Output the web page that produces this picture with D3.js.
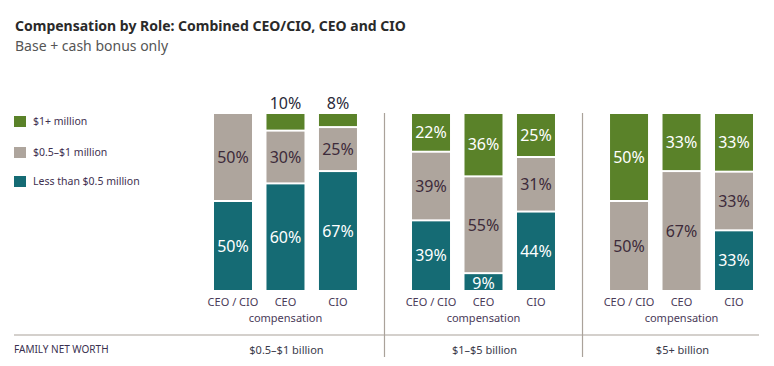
<!DOCTYPE html>
<html>
<head>
<meta charset="utf-8">
<script src="https://cdn.jsdelivr.net/npm/d3@7"></script>
<style>
  html, body { margin: 0; padding: 0; background: #fff; }
  svg { display: block; font-family: "Noto Sans", "Open Sans", sans-serif; }
</style>
</head>
<body>
<svg id="chart" width="774" height="366"></svg>
<script>
// ---- data ----
const groups = ["$0.5–$1 billion", "$1–$5 billion", "$5+ billion"];
const roles = ["CEO / CIO", "CEO", "CIO"];
const seriesKeys = ["low", "mid", "high"];
const seriesLabels = ["Less than $0.5 million", "$0.5–$1 million", "$1+ million"];
// values per group, in role order
const lowValues  = [[50, 60, 67], [39, 9, 44], [0, 0, 33]];
const midValues  = [[50, 30, 25], [39, 55, 31], [50, 67, 33]];
const highValues = [[0, 10, 8],   [22, 36, 25], [50, 33, 33]];

const colors = { low: "#156b74", mid: "#aea59d", high: "#5a8229" };
const textColors = { low: "#ffffff", mid: "#3d2b3a", high: "#ffffff" };

const svg = d3.select("#chart");

// ---- title ----
svg.append("text").attr("x", 15).attr("y", 31)
  .attr("font-size", 14).attr("font-weight", "bold").attr("fill", "#2a2a2a")
  .text("Compensation by Role: Combined CEO/CIO, CEO and CIO");
svg.append("text").attr("x", 15).attr("y", 51)
  .attr("font-size", 14).attr("fill", "#555")
  .text("Base + cash bonus only");

// ---- scales ----
const xGroup = d3.scaleBand().domain(groups).range([214, 753]).paddingInner(0.278).paddingOuter(0);
const xRole = d3.scaleBand().domain(roles).range([0, xGroup.bandwidth()]).paddingInner(0.276).paddingOuter(0);
const y = d3.scaleLinear().domain([0, 1]).range([290, 114]);

// ---- rows ----
const rows = [];
groups.forEach((g, gi) => roles.forEach((r, ri) => {
  rows.push({ group: g, role: r, low: lowValues[gi][ri], mid: midValues[gi][ri], high: highValues[gi][ri] });
}));
const stacked = d3.stack().keys(seriesKeys).offset(d3.stackOffsetExpand)(rows);

const gap = 2;
const defs = svg.append("defs");
rows.forEach((d, i) => {
  defs.append("clipPath").attr("id", "clip" + i)
    .append("rect")
    .attr("x", xGroup(d.group) + xRole(d.role)).attr("y", y(1))
    .attr("width", xRole.bandwidth()).attr("height", y(0) - y(1));
});

stacked.forEach(layer => {
  const key = layer.key;
  const g = svg.append("g");
  layer.forEach((seg, i) => {
    const d = seg.data;
    const v = d[key];
    if (!v) return;
    const x0 = xGroup(d.group) + xRole(d.role);
    const top = y(seg[1]);
    const bottom = y(seg[0]) - (seg[0] > 0 ? gap : 0);
    g.append("rect").attr("x", x0).attr("y", top)
      .attr("width", xRole.bandwidth()).attr("height", Math.max(0, bottom - top))
      .attr("fill", colors[key]);
    const h = bottom - top;
    if (h >= 24) {
      g.append("text").attr("x", x0 + xRole.bandwidth() / 2).attr("y", (top + bottom) / 2)
        .attr("dy", "0.36em").attr("text-anchor", "middle")
        .attr("font-size", 16).attr("fill", textColors[key])
        .text(v + "%");
    } else if (key === "high") {
      g.append("text").attr("x", x0 + xRole.bandwidth() / 2).attr("y", top - 11)
        .attr("dy", "0.36em").attr("text-anchor", "middle")
        .attr("font-size", 16).attr("fill", "#2a2a3a")
        .text(v + "%");
    } else {
      g.append("text").attr("x", x0 + xRole.bandwidth() / 2).attr("y", top + 9)
        .attr("dy", "0.36em").attr("text-anchor", "middle")
        .attr("font-size", 16).attr("fill", textColors[key])
        .attr("clip-path", "url(#clip" + i + ")")
        .text(v + "%");
    }
  });
});

// ---- role axis labels ----
groups.forEach(g => {
  roles.forEach(r => {
    svg.append("text").attr("x", xGroup(g) + xRole(r) + xRole.bandwidth() / 2).attr("y", 302)
      .attr("dy", "0.36em").attr("text-anchor", "middle")
      .attr("font-size", 11).attr("fill", "#4a3a58").text(r);
  });
  svg.append("text").attr("x", xGroup(g) + xGroup.bandwidth() / 2).attr("y", 318)
    .attr("dy", "0.36em").attr("text-anchor", "middle")
    .attr("font-size", 11).attr("fill", "#4a3a58").text("compensation");
  svg.append("text").attr("x", xGroup(g) + xGroup.bandwidth() / 2 + 1).attr("y", 350)
    .attr("dy", "0.36em").attr("text-anchor", "middle")
    .attr("font-size", 11).attr("fill", "#3a3a4a").text(g);
});

// ---- dividers ----
for (let i = 1; i < groups.length; i++) {
  const xd = (xGroup(groups[i - 1]) + xGroup.bandwidth() + xGroup(groups[i])) / 2;
  svg.append("line").attr("x1", xd).attr("x2", xd).attr("y1", 113).attr("y2", 357)
    .attr("stroke", "#aaa29a").attr("stroke-width", 1.2);
}
svg.append("line").attr("x1", 14).attr("x2", 759).attr("y1", 335).attr("y2", 335)
  .attr("stroke", "#aaa29a").attr("stroke-width", 1.2);

svg.append("text").attr("x", 14).attr("y", 349).attr("dy", "0.36em")
  .attr("font-size", 10).attr("fill", "#3a3050").text("FAMILY NET WORTH");

// ---- legend ----
const legendOrder = ["high", "mid", "low"];
const legendY = [116, 147, 176];
legendOrder.forEach((k, i) => {
  svg.append("rect").attr("x", 14).attr("y", legendY[i]).attr("width", 12).attr("height", 11)
    .attr("fill", colors[k]);
  svg.append("text").attr("x", 33).attr("y", legendY[i] + 5.5).attr("dy", "0.36em")
    .attr("font-size", 10.5).attr("fill", "#3e3050")
    .text(seriesLabels[seriesKeys.indexOf(k)]);
});
</script>
</body>
</html>
